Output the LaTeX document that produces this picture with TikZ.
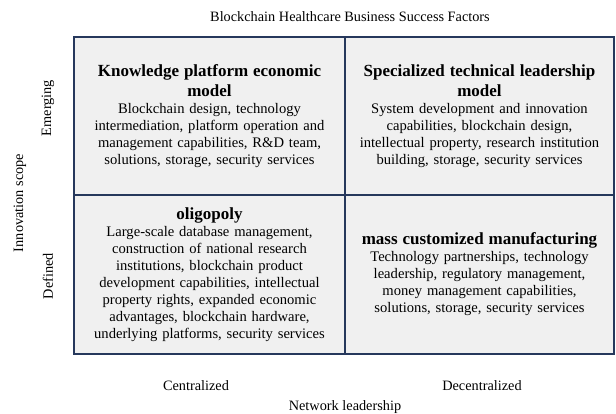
\documentclass[tikz,border=0pt]{standalone}
\usepackage{fontspec}
\setmainfont{Liberation Serif}
\usetikzlibrary{positioning}

\definecolor{gridline}{RGB}{38,56,92}
\definecolor{cellfill}{RGB}{240,240,240}
\newcommand{\cellhead}[1]{{\fontsize{17}{20.5}\selectfont\bfseries #1\par}}

\tikzset{
	quadrant/.style={draw=gridline, line width=2pt, fill=cellfill, rectangle, align=center, text width=262pt, font=\fontsize{14.6}{17}\selectfont},
	axislabel/.style={font=\fontsize{14.3}{16}\selectfont}
}

\begin{document}
\begin{tikzpicture}[x=1pt, y=-1pt]
		\useasboundingbox (0,0) rectangle (616,413);
		\node[axislabel] (title) at (350,17) {Blockchain Healthcare Business Success Factors};
		\node[quadrant, minimum width=271pt, minimum height=158pt] (knowledge) at (209.5,116) {\cellhead{Knowledge platform economic\\model}Blockchain design, technology\\intermediation, platform operation and\\management capabilities, R\&D team,\\solutions, storage, security services};
		\node[quadrant, minimum width=269pt, minimum height=158pt] (specialized) at (479.5,116) {\cellhead{Specialized technical leadership\\model}System development and innovation\\capabilities, blockchain design,\\intellectual property, research institution\\building, storage, security services};
		\node[quadrant, minimum width=271pt, minimum height=159pt] (oligopoly) at (209.5,274.5) {\cellhead{oligopoly}Large-scale database management,\\construction of national research\\institutions, blockchain product\\development capabilities, intellectual\\property rights, expanded economic\\advantages, blockchain hardware,\\underlying platforms, security services};
		\node[quadrant, minimum width=269pt, minimum height=159pt] (mass) at (479.5,274.5) {\cellhead{mass customized manufacturing}Technology partnerships, technology\\leadership, regulatory management,\\money management capabilities,\\solutions, storage, security services};
		\node[axislabel, rotate=90] (emerging) at (48,108) {Emerging};
		\node[axislabel, rotate=90] (defined) at (48,276) {Defined};
		\node[axislabel, rotate=90] (scope) at (20,203) {Innovation scope};
		\node[axislabel] (centralized) at (196,386) {Centralized};
		\node[axislabel] (decentralized) at (482,386) {Decentralized};
		\node[axislabel] (leadership) at (345,407) {Network leadership};
\end{tikzpicture}
\end{document}
